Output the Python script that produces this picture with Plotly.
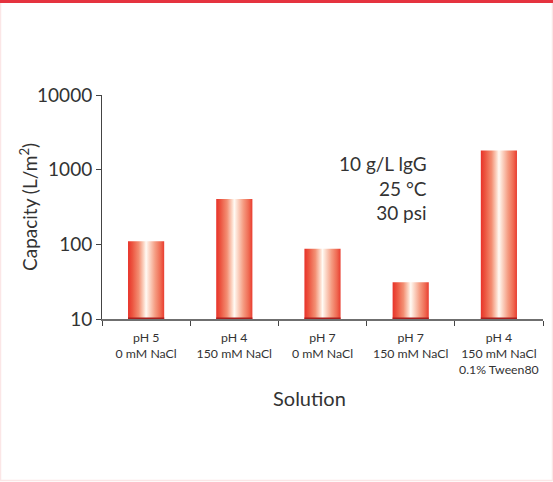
import plotly.graph_objects as go

# Filtration capacity per solution condition
solutions = [
    "pH 5<br>0 mM NaCl",
    "pH 4<br>150 mM NaCl",
    "pH 7<br>0 mM NaCl",
    "pH 7<br>150 mM NaCl",
    "pH 4<br>150 mM NaCl<br>0.1% Tween80",
]
capacity = [110, 405, 87, 31, 1800]
y_ticks = [10, 100, 1000, 10000]
y_base = 10
conditions = ["10 g/L lgG", "25 °C", "30 psi"]

FONT = "Lato"
TXT = "#333333"
W, H = 553, 482
ML, MR, MT, MB = 102, 10, 95, 163
PW, PH = W - ML - MR, H - MT - MB
BAR_W = 0.41

# cylindrical shading: red edges, white highlight in the middle
shade = [
    [0.0, "#e8332a"], [0.12, "#ec5540"], [0.3, "#f38f73"],
    [0.44, "#fcd9c8"], [0.5, "#fffaf4"], [0.58, "#fcdccd"],
    [0.75, "#f59c82"], [0.9, "#ef6a52"], [1.0, "#e93d30"],
]

fig = go.Figure()
for i, v in enumerate(capacity):
    x0, x1 = i - BAR_W / 2, i + BAR_W / 2
    fig.add_trace(go.Scatter(
        x=[x0, x1, x1, x0, x0], y=[y_base, y_base, v, v, y_base],
        mode="lines", line=dict(width=0), fill="toself",
        fillgradient=dict(type="horizontal", colorscale=shade, start=x0, stop=x1),
        hoverinfo="skip", showlegend=False,
    ))
    # darker rim at the foot of each bar
    fig.add_trace(go.Scatter(
        x=[x0, x1], y=[y_base, y_base], mode="lines",
        line=dict(color="#a81e1e", width=3),
        hoverinfo="skip", showlegend=False,
    ))

fig.update_xaxes(
    range=[-0.5, len(capacity) - 0.5],
    tickvals=list(range(len(solutions))), ticktext=solutions,
    ticks="", showgrid=False, zeroline=False,
    showline=True, linecolor="#6f6f6f", linewidth=2,
    minor=dict(ticks="outside", tick0=-0.5, dtick=1, ticklen=5,
               tickcolor="#444444", tickwidth=1, showgrid=False),
    tickfont=dict(family=FONT, size=12.3, color=TXT),
    ticklabelstandoff=6,
)
fig.update_yaxes(
    type="log", range=[1, 4],
    tickvals=y_ticks, ticktext=[str(t) for t in y_ticks],
    ticks="outside", ticklen=5, tickcolor="#444444",
    showgrid=False, zeroline=False,
    showline=True, linecolor="#444444", linewidth=1,
    tickfont=dict(family=FONT, size=19, color=TXT),
)

def px(xp):
    return (xp - ML) / PW

def py(yp):
    return 1 - (yp - MT) / PH

annotations = [
    dict(text="<br>".join(conditions), xref="paper", yref="paper",
         x=px(429), y=py(150), xanchor="right", yanchor="top",
         align="right", showarrow=False,
         font=dict(family=FONT, size=19, color=TXT)),
    dict(text="Solution", xref="paper", yref="paper",
         x=px(309), y=py(398), xanchor="center", yanchor="middle",
         showarrow=False, font=dict(family=FONT, size=20, color=TXT)),
    dict(text="Capacity (L/m<sup>2</sup>)", xref="paper", yref="paper",
         x=px(28), y=py(207), xanchor="center", yanchor="middle",
         textangle=-90, showarrow=False,
         font=dict(family=FONT, size=19, color=TXT)),
]

# page frame: red rule on top, faint pink border around
shapes = [
    dict(type="rect", xref="paper", yref="paper", x0=px(0.5), x1=px(W - 0.5),
         y0=py(H - 1.5), y1=py(1), line=dict(color="#fbe6e6", width=1.5),
         fillcolor="rgba(0,0,0,0)", layer="below"),
    dict(type="rect", xref="paper", yref="paper", x0=px(0), x1=px(W),
         y0=py(3), y1=py(0), line=dict(width=0), fillcolor="#e5333f"),
]

fig.update_layout(
    width=W, height=H, margin=dict(l=ML, r=MR, t=MT, b=MB),
    paper_bgcolor="white", plot_bgcolor="white",
    annotations=annotations, shapes=shapes, showlegend=False,
)

fig.write_html("out.html")
